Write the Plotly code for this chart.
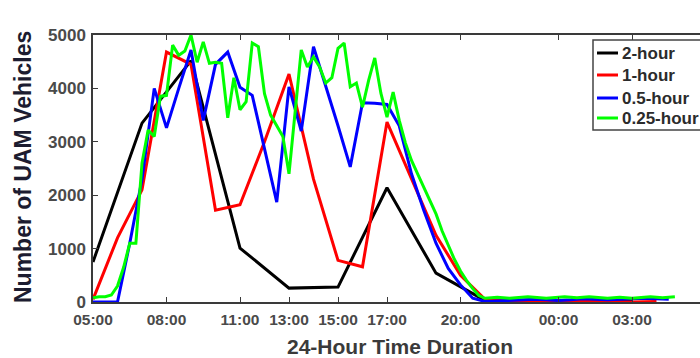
import plotly.graph_objects as go

# ---- data (hours since midnight; 24+ = next day) ----
hours_2h = [5, 7, 9, 11, 13, 15, 17, 19, 21, 23, 25, 27]
veh_2h = [750, 3350, 4520, 1010, 260, 280, 2140, 540, 30, 20, 30, 20]

hours_1h = [5, 6, 7, 8, 9, 10, 11, 12, 13, 14, 15, 16, 17, 18, 19, 20, 21, 22, 23, 24, 25, 26, 27, 28]
veh_1h = [50, 1200, 2100, 4680, 4450, 1720, 1820, 3000, 4270, 2300, 780, 660, 3370, 2300, 1250, 500,
          50, 20, 10, 15, 10, 5, 0, 10]

hours_05h = [5.0, 5.5, 6.0, 6.5, 7.0, 7.5, 8.0, 8.5, 9.0, 9.5, 10.0, 10.5, 11.0, 11.5, 12.0, 12.5,
             13.0, 13.5, 14.0, 14.5, 15.0, 15.5, 16.0, 16.5, 17.0, 17.5, 18.0, 18.5, 19.0, 19.5,
             20.0, 20.5, 21.0, 21.5, 22.0, 22.5, 23.0, 23.5, 24.0, 24.5, 25.0, 25.5, 26.0, 26.5,
             27.0, 27.5, 28.0, 28.5]
veh_05h = [0, 0, 0, 1100, 2300, 4000, 3260, 4000, 4720, 3400, 4450, 4680, 4020, 3870, 2900, 1870,
           4030, 3200, 4780, 4060, 3300, 2530, 3730, 3720, 3700, 3300, 2400, 1720, 1100, 630,
           320, 70, 10, 20, 30, 40, 50, 40, 30, 40, 60, 50, 40, 50, 60, 70, 60, 50]

hours_025h = [5.0, 5.25, 5.5, 5.75, 6.0, 6.25, 6.5, 6.75, 7.0, 7.25, 7.5, 7.75, 8.0, 8.25, 8.5, 8.75,
              9.0, 9.25, 9.5, 9.75, 10.0, 10.25, 10.5, 10.75, 11.0, 11.25, 11.5, 11.75, 12.0, 12.25,
              12.5, 12.75, 13.0, 13.25, 13.5, 13.75, 14.0, 14.25, 14.5, 14.75, 15.0, 15.25, 15.5,
              15.75, 16.0, 16.25, 16.5, 16.75, 17.0, 17.25, 17.5, 17.75, 18.0, 18.25, 18.5, 18.75,
              19.0, 19.25, 19.5, 19.75, 20.0, 20.25, 20.5, 20.75, 21.0, 21.25, 21.5, 21.75, 22.0,
              22.25, 22.5, 22.75, 23.0, 23.25, 23.5, 23.75, 24.0, 24.25, 24.5, 24.75, 25.0, 25.25,
              25.5, 25.75, 26.0, 26.25, 26.5, 26.75, 27.0, 27.25, 27.5, 27.75, 28.0, 28.25, 28.5,
              28.75]
veh_025h = [80, 100, 100, 130, 300, 650, 1100, 1100, 2600, 3220, 3100, 3850, 3870, 4810, 4620, 4700,
            5000, 4490, 4870, 4470, 4490, 4470, 3450, 4200, 3600, 3750, 4850, 4780, 3900, 3500,
            3300, 3100, 2400, 3600, 4720, 4400, 4590, 4400, 4100, 4200, 4750, 4850, 4030,
            4100, 3650, 4150, 4570, 3910, 3460, 3930, 3400, 2980, 2650, 2400, 2150, 1900,
            1650, 1330, 1050, 800, 580, 400, 250, 120, 70, 80, 90, 80, 70,
            80, 90, 100, 90, 80, 70, 80, 90, 100, 90, 80, 90, 100,
            90, 80, 70, 80, 90, 80, 70, 80, 90, 100, 90, 80, 90,
            100]

series_names = ["2-hour", "1-hour", "0.5-hour", "0.25-hour"]
series_colors = ["#000000", "#ff0000", "#0000ff", "#00ff00"]

tick_vals = [5, 8, 11, 13, 15, 17, 20, 24, 27]
tick_text = ["05:00", "08:00", "11:00", "13:00", "15:00", "17:00", "20:00", "00:00", "03:00"]

# ---- layout geometry ----
W, H = 700, 358
L, T, B, R = 93, 35, 56, 0
PW, PH = W - L - R, H - T - B


def px_x(px):
    return (px - L) / PW


def px_y(py):
    return (H - B - py) / PH


fig = go.Figure()
xs = [hours_2h, hours_1h, hours_05h, hours_025h]
ys = [veh_2h, veh_1h, veh_05h, veh_025h]
for x, y, n, c in zip(xs, ys, series_names, series_colors):
    fig.add_trace(go.Scatter(x=x, y=y, mode="lines", name=n,
                             line=dict(color=c, width=3), showlegend=False))

axis_col = "#3a3a3a"
fig.update_xaxes(range=[5, 5 + PW / 24.5], tickmode="array", tickvals=tick_vals, ticktext=tick_text,
                 ticks="inside", ticklen=5, tickwidth=1.2, tickcolor=axis_col,
                 showline=True, linecolor=axis_col, linewidth=1.5, mirror="ticks",
                 showgrid=False, zeroline=False, ticklabelstandoff=3,
                 tickfont=dict(family="Liberation Sans, Arial", size=15.5, color="#4a4a4a", weight="bold"))
fig.update_yaxes(range=[0, 5000], tickmode="array", tickvals=[0, 1000, 2000, 3000, 4000, 5000],
                 ticks="inside", ticklen=5, tickwidth=1.2, tickcolor=axis_col,
                 showline=True, linecolor=axis_col, linewidth=1.5,
                 showgrid=False, zeroline=False, ticklabelstandoff=2,
                 tickfont=dict(family="Liberation Sans, Arial", size=17, color="#4a4a4a", weight="bold"))

shapes = []
annotations = []
# axis titles
annotations.append(dict(text="24-Hour Time Duration", xref="paper", yref="paper",
                        x=px_x(400), y=px_y(346), showarrow=False, xanchor="center", yanchor="middle",
                        font=dict(family="Liberation Sans, Arial", size=21, color="#3a3a3a", weight="bold")))
annotations.append(dict(text="Number of UAM Vehicles", xref="paper", yref="paper",
                        x=px_x(23), y=px_y(167), showarrow=False, textangle=-90,
                        xanchor="center", yanchor="middle",
                        font=dict(family="Liberation Sans, Arial", size=23, color="#1c1c30", weight="bold")))

# legend box
shapes.append(dict(type="rect", xref="paper", yref="paper", x0=px_x(593), x1=px_x(704),
                   y0=px_y(130), y1=px_y(40), line=dict(color="#444444", width=1.5),
                   fillcolor="white", layer="above"))
leg_y = [53, 75, 98, 118]
for n, c, yy in zip(series_names, series_colors, leg_y):
    shapes.append(dict(type="line", xref="paper", yref="paper", x0=px_x(597), x1=px_x(618),
                       y0=px_y(yy), y1=px_y(yy), line=dict(color=c, width=3), layer="above"))
    annotations.append(dict(text=n, xref="paper", yref="paper", x=px_x(620), y=px_y(yy),
                            xanchor="left", yanchor="middle", showarrow=False,
                            font=dict(family="Liberation Sans, Arial", size=17, color="#2b2b2b",
                                      weight="bold")))

fig.update_layout(width=W, height=H, margin=dict(l=L, r=R, t=T, b=B),
                  paper_bgcolor="white", plot_bgcolor="white",
                  shapes=shapes, annotations=annotations, showlegend=False)

fig.write_html("out.html")
